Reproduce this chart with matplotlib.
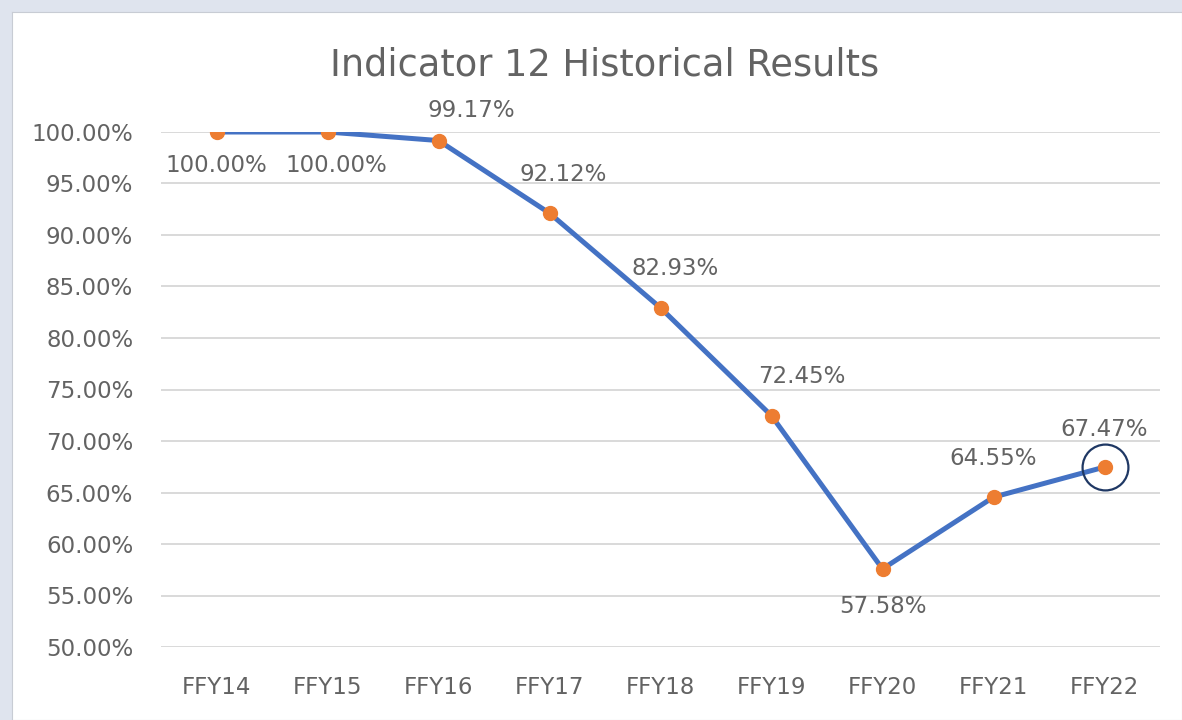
import matplotlib
matplotlib.use("Agg")
import matplotlib.pyplot as plt

categories = ["FFY14", "FFY15", "FFY16", "FFY17", "FFY18", "FFY19", "FFY20", "FFY21", "FFY22"]
values = [100.00, 100.00, 99.17, 92.12, 82.93, 72.45, 57.58, 64.55, 67.47]
yticks = [50, 55, 60, 65, 70, 75, 80, 85, 90, 95, 100]

# data-label offsets from each point, in pixels (dx, dy)
label_offsets = [(0, -33), (9, -33), (33, 30), (14, 39), (15, 39), (30, 39), (0, -38), (0, 39), (0, 38)]

plt.rcParams['font.family'] = ['DejaVu Sans']
gray = '#636363'

fig = plt.figure(figsize=(11.82, 7.2), dpi=100)
fig.patch.set_facecolor('#dfe4ee')

bg = fig.add_axes([12/1182, 0, 1 - 12/1182, 1 - 12/720], zorder=0)
bg.set_facecolor('white')
bg.set_xticks([])
bg.set_yticks([])
for s in bg.spines.values():
    s.set_color('#c8ccd4')

ax = fig.add_axes([161/1182, 1 - 647/720, (1160 - 161)/1182, (647 - 132)/720], zorder=1)
ax.set_facecolor('none')
x = list(range(len(categories)))
ax.plot(x, values, color='#4472c4', linewidth=3.6, zorder=3, solid_capstyle='round')
ax.plot(x, values, linestyle='none', marker='o', markersize=10, color='#ed7d31', zorder=4)
ax.plot([x[-1]], [values[-1]], linestyle='none', marker='o', markersize=33, fillstyle='none',
        markeredgecolor='#1f3864', markeredgewidth=1.6, zorder=5, clip_on=False)

px = 72 / 100  # points per pixel
for xi, v, (dx, dy) in zip(x, values, label_offsets):
    ax.annotate(f"{v:.2f}%", (xi, v), xytext=(dx * px, dy * px), textcoords='offset points',
                ha='center', va='center', fontsize=16.5, color=gray, annotation_clip=False)

ax.set_xlim(-0.5, len(categories) - 0.5)
ax.set_ylim(50, 100)
ax.set_yticks(yticks)
ax.set_yticklabels([f"{t:.2f}%" for t in yticks])
ax.set_xticks(x)
ax.set_xticklabels(categories)
ax.tick_params(axis='both', length=0, labelsize=16.5, labelcolor=gray)
ax.tick_params(axis='x', pad=21)
ax.tick_params(axis='y', pad=20)
ax.grid(axis='y', color='#d9d9d9', linewidth=1.4)
ax.set_axisbelow(True)
for s in ax.spines.values():
    s.set_visible(False)

fig.text(605/1182, 1 - 65/720, "Indicator 12 Historical Results", ha='center', va='center',
         fontsize=26.5, color=gray)

fig.savefig("out.png", dpi=100, facecolor=fig.get_facecolor())
